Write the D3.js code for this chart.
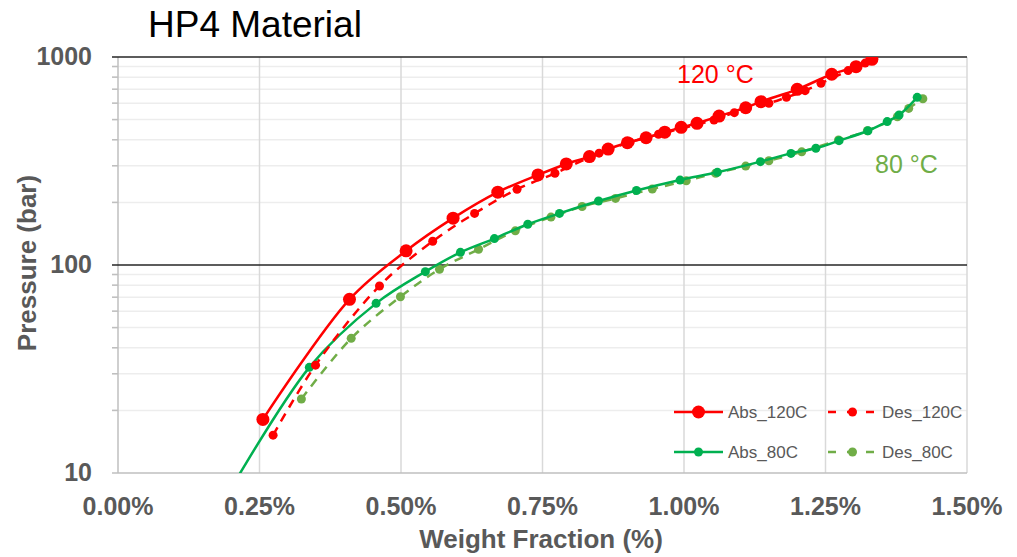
<!DOCTYPE html>
<html>
<head>
<meta charset="utf-8">
<script src="https://cdn.jsdelivr.net/npm/d3@7"></script>
<style>
  body { margin: 0; background: #fff; }
  svg { font-family: "Liberation Sans", Arial, sans-serif; }
  .tick-label { font-size: 25px; font-weight: bold; fill: #595959; }
  .axis-title { font-size: 26px; font-weight: bold; fill: #595959; }
  .legend-text { font-size: 17px; fill: #595959; }
</style>
</head>
<body>
<svg id="chart" width="1017" height="557"></svg>
<script>
// weight fraction (%), pressure (bar)
var abs120 = [
  [0.256, 18.1], [0.409, 68.4], [0.509, 117], [0.592, 168], [0.671, 224],
  [0.742, 271], [0.792, 306], [0.833, 332], [0.866, 361], [0.900, 387],
  [0.933, 409], [0.966, 435], [0.995, 459], [1.023, 480], [1.062, 520],
  [1.109, 570], [1.136, 610], [1.200, 699], [1.261, 826], [1.304, 898],
  [1.332, 975]
];
var des120 = [
  [0.274, 15.2], [0.349, 33.0], [0.462, 79.3], [0.556, 130], [0.630, 177],
  [0.705, 231], [0.772, 276], [0.850, 345], [0.905, 390], [0.955, 425],
  [1.053, 498], [1.089, 540], [1.150, 599], [1.181, 640], [1.214, 689],
  [1.242, 747], [1.290, 860], [1.320, 935]
];
var abs80 = [
  [0.160, 5.5], [0.338, 32.2], [0.456, 65.4], [0.543, 92.9], [0.605, 115],
  [0.665, 134], [0.724, 157], [0.780, 177], [0.849, 203], [0.916, 228],
  [0.993, 256], [1.059, 279], [1.135, 314], [1.189, 344], [1.233, 364],
  [1.274, 396], [1.325, 442], [1.359, 489], [1.380, 526], [1.412, 640]
];
var des80 = [
  [0.324, 22.7], [0.412, 44.4], [0.499, 70.4], [0.568, 95.4], [0.637, 119],
  [0.702, 146], [0.765, 170], [0.820, 191], [0.879, 209], [0.944, 232],
  [1.004, 254], [1.056, 276], [1.109, 299], [1.150, 317], [1.208, 350],
  [1.273, 399], [1.324, 442], [1.377, 516], [1.397, 566], [1.422, 630]
];

var xTicks = [0, 0.25, 0.5, 0.75, 1.0, 1.25, 1.5];
var yTicks = [10, 100, 1000];

var series = [
  {name: "Abs_120C", data: abs120, color: "#FF0000", dash: null, r: 6.5},
  {name: "Des_120C", data: des120, color: "#FF0000", dash: "9,7", r: 4.5},
  {name: "Abs_80C", data: abs80, color: "#00B050", dash: null, r: 4.5},
  {name: "Des_80C", data: des80, color: "#70AD47", dash: "9,7", r: 4.5}
];

var margin = {top: 57, left: 118};
var width = 849;
var height = 416;

var svg = d3.select("#chart");

var xScale = d3.scaleLinear().domain([0, 1.5]).range([0, width]);
var yScale = d3.scaleLog().domain([10, 1000]).range([height, 0]);

var chart = svg.append("g")
    .attr("transform", `translate(${margin.left}, ${margin.top})`);

chart.append("clipPath")
    .attr("id", "plot-clip")
  .append("rect")
    .attr("width", width)
    .attr("height", height);

// minor log gridlines
var minorVals = [];
[10, 100].forEach(function(base) {
  for (var k = 2; k <= 9; k++) minorVals.push(base * k);
});
chart.selectAll("line.minor")
    .data(minorVals)
    .enter().append("line")
        .attr("class", "minor")
        .attr("x1", -6)
        .attr("x2", width)
        .attr("y1", function(d) { return yScale(d); })
        .attr("y2", function(d) { return yScale(d); })
        .attr("stroke", "#EDEDED")
        .attr("stroke-width", 1.5);
chart.selectAll("line.minortick")
    .data(minorVals)
    .enter().append("line")
        .attr("class", "minortick")
        .attr("x1", -6)
        .attr("x2", 0)
        .attr("y1", function(d) { return yScale(d); })
        .attr("y2", function(d) { return yScale(d); })
        .attr("stroke", "#BFBFBF")
        .attr("stroke-width", 1.5);

// vertical gridlines
chart.selectAll("line.vgrid")
    .data(xTicks)
    .enter().append("line")
        .attr("class", "vgrid")
        .attr("x1", function(d) { return xScale(d); })
        .attr("x2", function(d) { return xScale(d); })
        .attr("y1", 0)
        .attr("y2", height)
        .attr("stroke", function(d) { return d == 0 ? "#BFBFBF" : "#D9D9D9"; })
        .attr("stroke-width", 1.5);

// major horizontal lines
chart.selectAll("line.major")
    .data(yTicks)
    .enter().append("line")
        .attr("class", "major")
        .attr("x1", -6)
        .attr("x2", width)
        .attr("y1", function(d) { return yScale(d); })
        .attr("y2", function(d) { return yScale(d); })
        .attr("stroke", function(d) { return d == 10 ? "#BFBFBF" : "#262626"; })
        .attr("stroke-width", function(d) { return d == 10 ? 1.5 : 1.6; });

// tick labels
chart.selectAll("text.ylab")
    .data(yTicks)
    .enter().append("text")
        .attr("class", "tick-label ylab")
        .attr("x", -26)
        .attr("y", function(d) { return yScale(d); })
        .attr("dy", "0.3em")
        .style("text-anchor", "end")
        .text(function(d) { return d; });
chart.selectAll("text.xlab")
    .data(xTicks)
    .enter().append("text")
        .attr("class", "tick-label xlab")
        .attr("x", function(d) { return xScale(d); })
        .attr("y", height + 42)
        .style("text-anchor", "middle")
        .text(function(d) { return d.toFixed(2) + "%"; });

// axis titles
svg.append("text")
    .attr("class", "axis-title")
    .attr("transform", "translate(36, 263) rotate(-90)")
    .style("text-anchor", "middle")
    .text("Pressure (bar)");
svg.append("text")
    .attr("class", "axis-title")
    .attr("x", 541)
    .attr("y", 548)
    .style("text-anchor", "middle")
    .text("Weight Fraction (%)");
svg.append("text")
    .attr("x", 148)
    .attr("y", 37)
    .style("font-size", "37px")
    .style("fill", "#000")
    .text("HP4 Material");

// series
var line = d3.line()
    .x(function(d) { return xScale(d[0]); })
    .y(function(d) { return yScale(d[1]); })
    .curve(d3.curveCatmullRom.alpha(0.5));

var plot = chart.append("g").attr("clip-path", "url(#plot-clip)");
var plotOrder = [series[3], series[2], series[1], series[0]];
plotOrder.forEach(function(s) {
  plot.append("path")
      .datum(s.data)
      .attr("d", line)
      .attr("fill", "none")
      .attr("stroke", s.color)
      .attr("stroke-width", 2.5)
      .attr("stroke-dasharray", s.dash);
  plot.selectAll(null)
      .data(s.data)
      .enter().append("circle")
          .attr("cx", function(d) { return xScale(d[0]); })
          .attr("cy", function(d) { return yScale(d[1]); })
          .attr("r", s.r)
          .attr("fill", s.color);
});

// annotations
svg.append("text")
    .attr("x", 677)
    .attr("y", 83)
    .style("font-size", "25px")
    .style("fill", "#FF0000")
    .text("120 °C");
svg.append("text")
    .attr("x", 875)
    .attr("y", 173)
    .style("font-size", "25px")
    .style("fill", "#70AD47")
    .text("80 °C");

// legend
var legendPos = [[674, 412], [828, 412], [674, 452], [828, 452]];
series.forEach(function(s, i) {
  var g = svg.append("g")
      .attr("transform", `translate(${legendPos[i][0]}, ${legendPos[i][1]})`);
  g.append("line")
      .attr("x1", 0)
      .attr("x2", 49)
      .attr("stroke", s.color)
      .attr("stroke-width", 2.5)
      .attr("stroke-dasharray", s.dash ? "8,11" : null);
  g.append("circle")
      .attr("cx", 24.5)
      .attr("r", s.r)
      .attr("fill", s.color);
  g.append("text")
      .attr("class", "legend-text")
      .attr("x", 54)
      .attr("dy", "0.36em")
      .text(s.name);
});
</script>
</body>
</html>
